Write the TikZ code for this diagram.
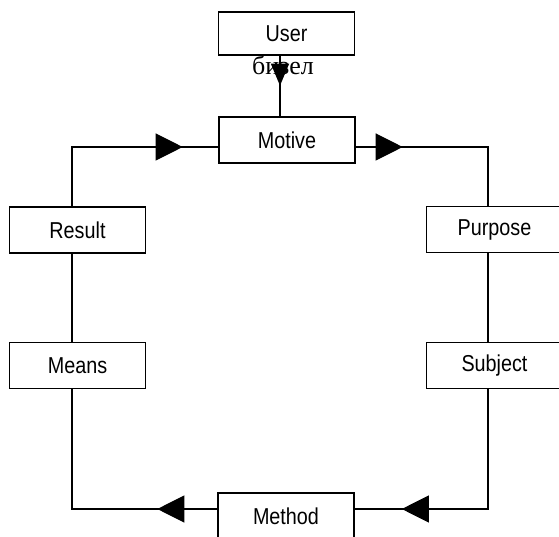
\documentclass[tikz,border=0pt]{standalone}
\usepackage{fontspec}
\setmainfont[FakeStretch=0.86]{Liberation Sans}
\newfontfamily\cyrfont{Liberation Serif}
\usetikzlibrary{arrows.meta,decorations.markings}

\tikzset{
  box/.style={draw,line width=1.4pt,minimum width=136pt,minimum height=46pt,
    inner sep=0pt,font=\fontsize{23}{26}\selectfont},
  link/.style={line width=1.2pt},
  midtip/.style={postaction={decorate},decoration={markings,
    mark=at position #1 with {\arrow{Triangle[length=27pt,width=27pt]}}}}
}

\begin{document}
\begin{tikzpicture}[x=1pt,y=-1pt]
  \useasboundingbox (0,0) rectangle (559,537);

  % Kaestchen
  \node[box,minimum height=43pt] (user) at (286.5,33.5) {User};
  \node[box] (motive)  at (287,140)    {Motive};
  \node[box] (result)  at (77.5,230)   {Result};
  \node[box] (purpose) at (494.5,229.5){Purpose};
  \node[box] (means)   at (77.5,365.5) {Means};
  \node[box] (subject) at (494.5,365.5){Subject};
  \node[box] (method)  at (286,516)    {Method};

  % Ecken des Kreislaufs
  \coordinate (ol) at (72,147);
  \coordinate (or) at (488,147);
  \coordinate (ur) at (488,509);
  \coordinate (ul) at (72,509);
  \coordinate (ua) at (280,0);

  % Beschriftung unter User
  \node[font=\cyrfont\fontsize{26}{28}\selectfont] (bizel) at (283,65) {бизел};
  \draw[link,postaction={decorate},decoration={markings,
    mark=at position 30pt with {\arrow{Triangle[length=22pt,width=18pt]}}}]
    (user.south -| ua) -- (motive.north -| ua);

  % Kreislauf
  \draw[link,midtip=170pt] (result.north -| ol) -- (ol) -- (motive.west |- ol);
  \draw[link,midtip=47pt] (motive.east |- or) -- (or) -- (purpose.north -| or);
  \draw[link] (purpose.south -| or) -- (subject.north -| or);
  \draw[link,midtip=206pt] (subject.south -| ur) -- (ur) -- (method.east |- ur);
  \draw[link,midtip=60pt] (method.west |- ul) -- (ul) -- (means.south -| ul);
  \draw[link] (means.north -| ol) -- (result.south -| ol);
\end{tikzpicture}
\end{document}
